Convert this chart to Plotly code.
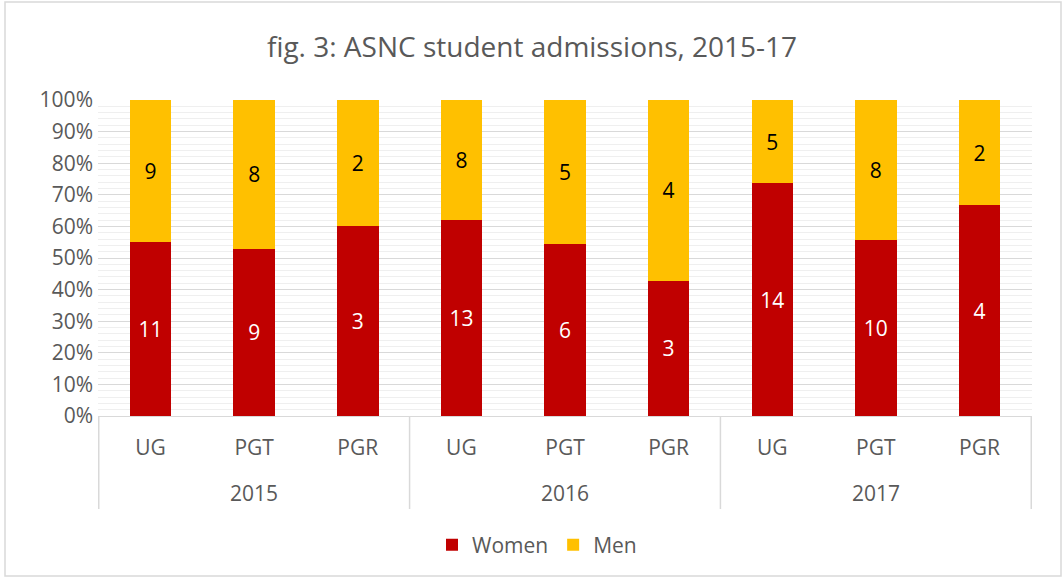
import plotly.graph_objects as go

years = ["2015", "2016", "2017"]
levels = ["UG", "PGT", "PGR"]
women = [11, 9, 3, 13, 6, 3, 14, 10, 4]
men = [9, 8, 2, 8, 5, 4, 5, 8, 2]

cats = [f"{y} {l}" for y in years for l in levels]
cat_labels = [l for y in years for l in levels]

FONT = "Open Sans"
GREY = "#595959"
LINE = "#D9D9D9"
FS = 21

FW, FH = 1064, 579

fig = go.Figure()
fig.add_trace(go.Bar(x=cats, y=women, name="Women", marker_color="#C00000",
                     marker_line_width=0, text=women, textposition="inside",
                     insidetextanchor="middle", textangle=0,
                     textfont=dict(color="white", size=FS, family=FONT)))
fig.add_trace(go.Bar(x=cats, y=men, name="Men", marker_color="#FFC000",
                     marker_line_width=0, text=men, textposition="inside",
                     insidetextanchor="middle", textangle=0,
                     textfont=dict(color="black", size=FS, family=FONT)))

L, R, T, B = 98, 1032, 100, 416
W, H = R - L, B - T
def px(x): return (x - L) / W
def py(y): return (B - y) / H

fig.update_layout(
    width=FW, height=FH,
    barmode="stack", barnorm="percent", bargap=0.6,
    margin=dict(l=L, r=FW - R, t=T, b=FH - B, autoexpand=False),
    paper_bgcolor="white", plot_bgcolor="white",
    font=dict(family=FONT, color=GREY, size=FS),
    title=dict(text="fig. 3: ASNC student admissions, 2015-17", x=0.5, xanchor="center",
               y=1 - 47 / FH, yanchor="middle", font=dict(size=28, color=GREY, family=FONT)),
    legend=dict(orientation="h", x=px(537), xanchor="center", y=py(545), yanchor="middle",
                font=dict(size=FS, color=GREY), traceorder="normal"),
    showlegend=True,
)
fig.update_yaxes(range=[0, 100], dtick=10, ticksuffix="%", showgrid=True, gridcolor=LINE,
                 gridwidth=1, zeroline=False, showline=False, automargin=False,
                 tickfont=dict(size=FS, color=GREY), ticklabelstandoff=4,
                 minor=dict(dtick=2, showgrid=True, gridcolor="#EFEFEF", gridwidth=1))
fig.update_xaxes(type="category", showline=True, linecolor=LINE, linewidth=1,
                 tickvals=cats, ticktext=cat_labels, ticks="", ticklen=0,
                 tickfont=dict(size=FS, color=GREY), automargin=False, ticklabelstandoff=13)
for i, y in enumerate(years):
    fig.add_annotation(x=cats[i * 3 + 1], y=py(493), xref="x", yref="paper",
                       text=y, showarrow=False, font=dict(size=FS, color=GREY),
                       xanchor="center", yanchor="middle")
for k in range(len(years) + 1):
    fig.add_shape(type="line", xref="x", yref="paper", x0=k * 3 - 0.5, x1=k * 3 - 0.5,
                  y0=0, y1=py(509), line=dict(color=LINE, width=1.5))
fig.add_shape(type="rect", xref="paper", yref="paper",
              x0=px(5), x1=px(1061), y0=py(576), y1=py(2),
              line=dict(color=LINE, width=1.5), fillcolor="rgba(0,0,0,0)", layer="below")
fig.write_html("out.html", config={"displayModeBar": False},
               post_script="document.body.style.margin='0';")
